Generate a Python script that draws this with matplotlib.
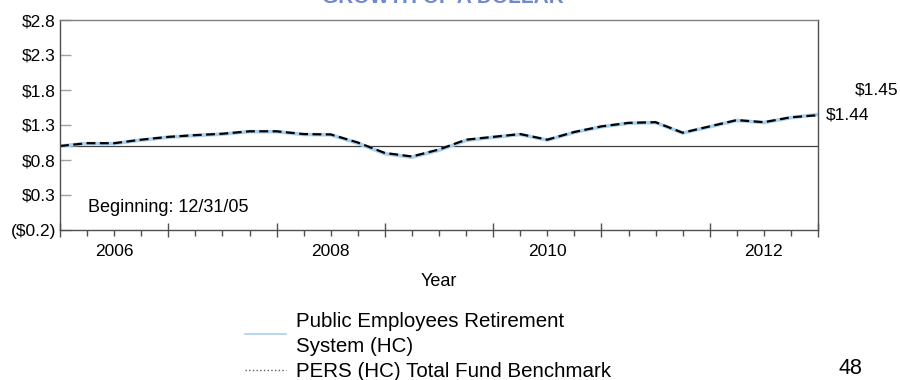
import numpy as np
import matplotlib
matplotlib.use("Agg")
import matplotlib.pyplot as plt
from matplotlib.lines import Line2D
from matplotlib.ticker import FixedLocator, FuncFormatter

plt.rcParams['font.family'] = ['Liberation Sans', 'DejaVu Sans']

# Growth of $1, quarter ends from 12/31/05 through 12/31/12
quarter_index = list(range(29))
fund_values = [1.00, 1.035, 1.035, 1.085, 1.125, 1.15, 1.17, 1.205, 1.205,
               1.165, 1.16, 1.04, 0.89, 0.84, 0.94, 1.08, 1.125, 1.165,
               1.085, 1.195, 1.275, 1.325, 1.335, 1.185, 1.275, 1.365,
               1.335, 1.405, 1.45]
benchmark_values = [1.00, 1.04, 1.04, 1.09, 1.13, 1.155, 1.175, 1.21, 1.21,
                    1.17, 1.165, 1.05, 0.90, 0.85, 0.95, 1.09, 1.13, 1.17,
                    1.09, 1.20, 1.28, 1.33, 1.34, 1.19, 1.28, 1.37, 1.34,
                    1.41, 1.44]
fund_name = "Public Employees Retirement\nSystem (HC)"
benchmark_name = "PERS (HC) Total Fund Benchmark"
y_ticks = [-0.2, 0.3, 0.8, 1.3, 1.8, 2.3, 2.8]
year_labels = [2006, 2008, 2010, 2012]

years = 2006 + np.array(quarter_index) * 0.25

fig = plt.figure(figsize=(9, 3.8), dpi=100)
ax = fig.add_axes([60 / 900, 1 - 230 / 380, 758 / 900, 210 / 380])

ax.plot(years, fund_values, color='#a9d0ec', lw=2.6, solid_capstyle='round')
ax.plot(years, benchmark_values, color='black', lw=1.6, dashes=(4, 2))
ax.axhline(1.0, color='#404040', lw=0.9, zorder=1)

ax.set_xlim(2006, 2013)
ax.set_ylim(-0.2, 2.8)

# y axis: dollar labels, negatives in parentheses
ax.set_yticks(y_ticks)
ax.yaxis.set_major_formatter(FuncFormatter(
    lambda v, p: f"(${abs(v):.1f})" if v < 0 else f"${v:.1f}"))
ax.tick_params(axis='y', direction='in', length=8, width=1, color='#a0a0a0',
               labelsize=12.5, pad=3)

# x axis: year boundaries as major ticks, quarters as minor, labels at mid-year
ax.xaxis.set_major_locator(FixedLocator(np.arange(2006, 2014)))
ax.xaxis.set_major_formatter(FuncFormatter(lambda v, p: ""))
quarters = [q for q in np.arange(2006, 2013.01, 0.25) if q % 1 != 0]
ax.xaxis.set_minor_locator(FixedLocator(quarters))
ax.xaxis.set_minor_formatter(FuncFormatter(
    lambda v, p: str(int(v)) if (v % 1 == 0.5 and int(v) in year_labels) else ""))
ax.tick_params(axis='x', which='major', direction='inout', length=10,
               width=1, color='#505050')
ax.tick_params(axis='x', which='minor', direction='out', length=4,
               width=1, color='#505050', labelsize=12.5, pad=6)
ax.set_xlabel("Year", fontsize=13, labelpad=10)

for side in ax.spines:
    ax.spines[side].set_color('#505050')
    ax.spines[side].set_linewidth(1)
ax.spines['top'].set_color('#808080')

ax.text(0.037, 0.105, "Beginning: 12/31/05", transform=ax.transAxes,
        fontsize=13, va='center', ha='left')

# ending values to the right of the plot
ax.annotate(f"${benchmark_values[-1]:.2f}", (years[-1], benchmark_values[-1]),
            xytext=(8, 0), textcoords='offset pixels', fontsize=12.5,
            va='center', ha='left', annotation_clip=False)
ax.annotate(f"${fund_values[-1]:.2f}", (years[-1], fund_values[-1]),
            xytext=(37, 25), textcoords='offset pixels', fontsize=12.5,
            va='center', ha='left', annotation_clip=False)

handles = [Line2D([], [], color='#a9d0ec', lw=1.2),
           Line2D([], [], color='#606060', lw=1, linestyle=':')]
leg = fig.legend(handles, [fund_name, benchmark_name], loc='upper left',
                 bbox_to_anchor=(245 / 900, 1 - 312 / 380), frameon=False,
                 fontsize=14.8, handlelength=2.0, handletextpad=0.5,
                 labelspacing=0.3, borderpad=0, borderaxespad=0)
for t in leg.get_texts():
    t.set_linespacing(1.4)

fig.text(443 / 900, 1 - 3 / 380, "GROWTH OF A DOLLAR", color='#7088cc',
         fontsize=15, fontweight='bold', ha='center', va='baseline')
fig.text(850 / 900, 1 - 369 / 380, "48", fontsize=15.5, ha='center',
         va='center')

fig.savefig("out.png", dpi=100)
